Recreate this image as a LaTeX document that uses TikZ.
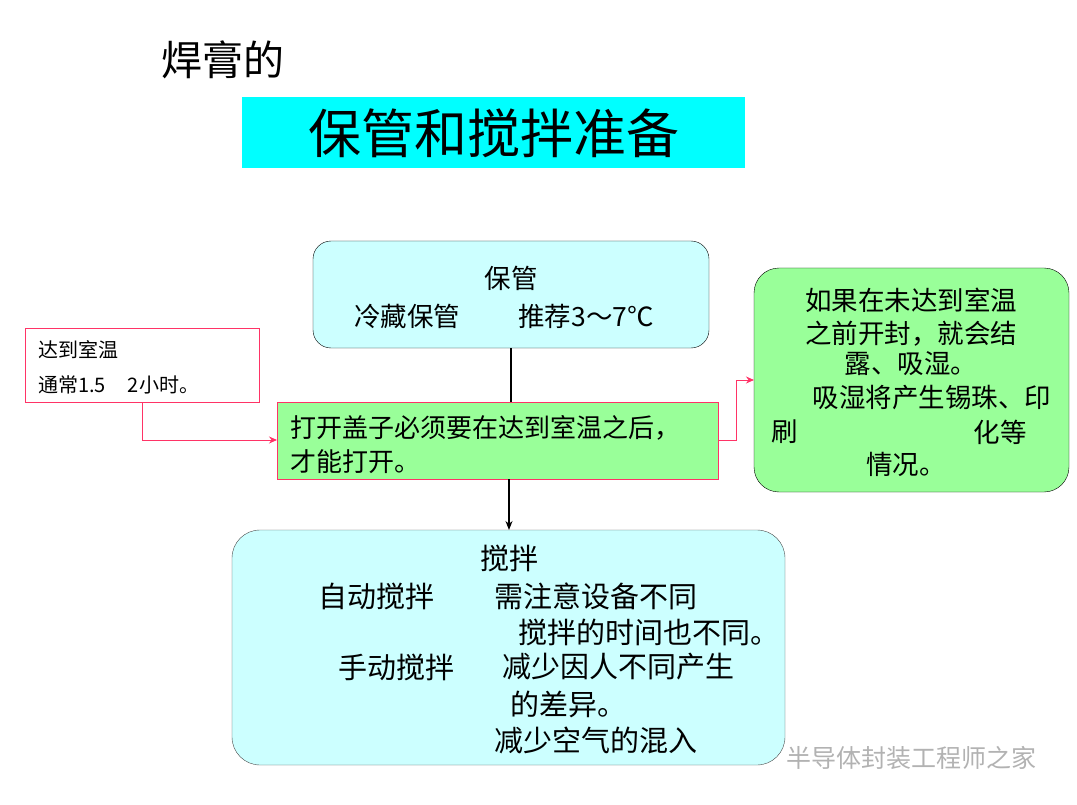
\documentclass[tikz,border=0pt]{standalone}
\usepackage{fontspec}
\setmainfont{Noto Sans CJK SC}
\usetikzlibrary{arrows.meta}
\definecolor{lcyan}{HTML}{CCFFFF}
\definecolor{cyanb}{HTML}{00FFFF}
\definecolor{lgreen}{HTML}{99FF99}
\definecolor{pinkc}{HTML}{FF3366}
\tikzset{
 t/.style={inner sep=0pt,anchor=west,font=\fontsize{26.5}{26}\selectfont},
 tb/.style={t,font=\fontsize{29}{29}\selectfont},
 pk/.style={draw=pinkc,line width=1pt},
 blk/.style={draw=black,line width=1.2pt}
}
\begin{document}
\begin{tikzpicture}[x=1pt,y=-1pt]
\useasboundingbox (0,0) rectangle (1077,805);
\node[t,font=\fontsize{41}{41}\selectfont] (title) at (161,60) {焊膏的};
\node[fill=cyanb,minimum width=503pt,minimum height=71pt,inner sep=0pt,font=\fontsize{53}{53}\selectfont] (head) at (493.5,133) {保管和搅拌准备};
\node[draw,fill=lcyan,rounded corners=18pt,minimum width=396pt,minimum height=107pt] (b1) at (511,294.5) {};
\node[t,anchor=center] at (511,278) {保管};
\node[t] at (354,316) {冷藏保管\hspace{2.2em}推荐3～7℃};
\node[pk,fill=white,minimum width=234pt,minimum height=74pt] (lb) at (142,365) {};
\node[t,font=\fontsize{20}{20}\selectfont] at (38,350) {达到室温};
\node[t,font=\fontsize{20}{20}\selectfont] at (38,385) {通常1.5\hspace{1.1em}2小时。};
\node[pk,fill=lgreen,minimum width=441pt,minimum height=77pt] (g) at (497.5,440.5) {};
\node[t,font=\fontsize{26}{26}\selectfont] at (290,428) {打开盖子必须要在达到室温之后，};
\node[t,font=\fontsize{26}{26}\selectfont] at (290,462) {才能打开。};
\node[draw,fill=lgreen,rounded corners=25pt,minimum width=315pt,minimum height=224pt] (r) at (911.5,380) {};
\begin{scope}[every node/.style={t,anchor=center}]
\node at (911,300) {如果在未达到室温};
\node at (911,334) {之前开封，就会结};
\node at (911,364) {露、吸湿。};
\node at (932,398) {吸湿将产生锡珠、印};
\node at (785,432) {刷};
\node at (1000,432) {化等};
\node at (906,464) {情况。};
\end{scope}
\node[draw=black!70,fill=lcyan,rounded corners=28pt,minimum width=553pt,minimum height=235pt] (b2) at (508.5,647.5) {};
\node[tb,anchor=center] at (509,558) {搅拌};
\node[tb] at (318,596) {自动搅拌};
\node[tb] at (494,596) {需注意设备不同};
\node[tb] at (518,632) {搅拌的时间也不同。};
\node[tb] at (338,667) {手动搅拌};
\node[tb] at (502,667) {减少因人不同产生};
\node[tb] at (510,704) {的差异。};
\node[tb] at (494,740) {减少空气的混入};
\node[t,font=\fontsize{25}{25}\selectfont,text=gray!60] (wm) at (786,758) {半导体封装工程师之家};
\draw[blk] (511,348) -- (511,402);
\draw[blk,-{Stealth[length=9pt,width=7pt]}] (509,479) -- (509,530);
\draw[pk,-{Stealth[length=8pt,width=7pt]}] (142,402) -- (142,440) -- (277,440);
\draw[pk,-{Stealth[length=8pt,width=7pt]}] (718,440) -- (736,440) -- (736,380) -- (754,380);
\end{tikzpicture}
\end{document}
